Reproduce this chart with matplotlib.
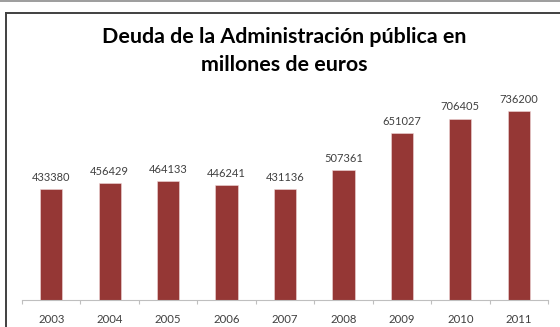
import matplotlib
matplotlib.use("Agg")
import matplotlib.pyplot as plt
from matplotlib.lines import Line2D
import numpy as np

years = ["2003", "2004", "2005", "2006", "2007", "2008", "2009", "2010", "2011"]
deuda = [433380, 456429, 464133, 446241, 431136, 507361, 651027, 706405, 736200]
title = "Deuda de la Administración pública en\nmillones de euros"

W, H = 560, 327
fig = plt.figure(figsize=(W / 100, H / 100), dpi=100)
fig.patch.set_facecolor("white")

base_y = 300
top_y = 94.6
ax = fig.add_axes([22 / W, (H - base_y) / H, (548 - 22) / W, (base_y - top_y) / H])
x = np.arange(len(years))
ax.bar(x, deuda, width=0.38, color="#953735", edgecolor="#f0d8d8", linewidth=0.4, zorder=2)
ax.set_xlim(-0.5, len(years) - 0.5)
ax.set_ylim(0, 800000)
for xi, v in zip(x, deuda):
    ax.text(xi, v + 24000, str(v), ha="center", va="bottom", fontsize=8.0,
            color="#404040", family="Lato")
ax.set_yticks([])
ax.set_xticks(x)
ax.set_xticklabels(years, fontsize=8.2, color="#404040", family="Lato")
ax.set_xticks(np.arange(-0.5, len(years)), minor=True)
ax.tick_params(axis="x", which="major", length=0, pad=10)
ax.tick_params(axis="x", which="minor", length=3, color="#bfbfbf", width=0.8)
for s in ["top", "right", "left"]:
    ax.spines[s].set_visible(False)
ax.spines["bottom"].set_color("#bfbfbf")
ax.spines["bottom"].set_linewidth(0.8)
ax.patch.set_alpha(0)

fig.text(284 / W, 1 - 51 / H, title, ha="center", va="center", fontsize=15.4,
         fontweight="bold", family="Lato", color="#000000", linespacing=1.5)

# frame lines
fig.add_artist(Line2D([0, 1], [1 - 1 / H, 1 - 1 / H], color="#8c8c8c", lw=1.2, transform=fig.transFigure))
fig.add_artist(Line2D([6 / W, 1], [1 - 12.5 / H, 1 - 12.5 / H], color="#404040", lw=1.4, transform=fig.transFigure))
fig.add_artist(Line2D([6 / W, 6 / W], [0, 1 - 12.5 / H], color="#404040", lw=1.4, transform=fig.transFigure))

fig.savefig("out.png", dpi=100)
